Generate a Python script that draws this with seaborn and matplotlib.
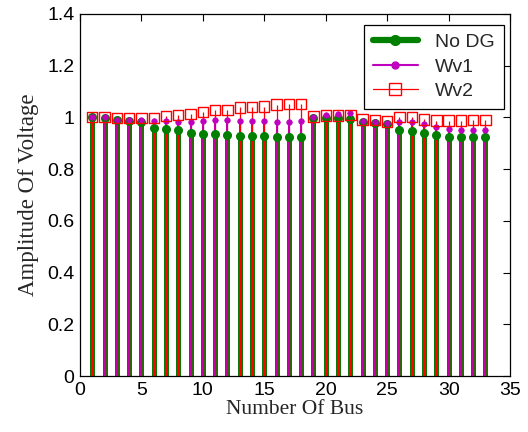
import numpy as np
import seaborn as sns
import matplotlib
matplotlib.use('Agg')
import matplotlib.pyplot as plt
from matplotlib.lines import Line2D
from matplotlib.legend_handler import HandlerLine2D

# Bus voltage magnitudes
buses = list(range(1, 34))
no_dg = [1.000, 0.998, 0.990, 0.985, 0.982, 0.960, 0.957, 0.952, 0.941, 0.937, 0.935,
         0.933, 0.930, 0.928, 0.927, 0.926, 0.925, 0.925, 0.999, 0.997, 0.996, 0.995,
         0.983, 0.980, 0.975, 0.951, 0.948, 0.938, 0.932, 0.925, 0.925, 0.925, 0.925]
wv1 = [1.000, 1.000, 0.991, 0.990, 0.990, 0.987, 0.986, 0.984, 0.982, 0.987, 0.990,
       0.990, 0.987, 0.987, 0.987, 0.984, 0.984, 0.985, 1.003, 1.008, 1.012, 1.016,
       0.988, 0.983, 0.978, 0.983, 0.983, 0.974, 0.962, 0.956, 0.953, 0.950, 0.950]
wv2 = [1.002, 1.002, 0.997, 0.997, 0.997, 0.997, 1.006, 1.010, 1.014, 1.022, 1.028,
       1.029, 1.039, 1.040, 1.042, 1.050, 1.052, 1.052, 1.004, 1.007, 1.008, 1.009,
       0.992, 0.990, 0.984, 1.001, 1.001, 0.992, 0.988, 0.988, 0.988, 0.991, 0.991]
series_names = ['No DG', 'Wv1', 'Wv2']
x_ticks = [0, 5, 10, 15, 20, 25, 30, 35]
y_ticks = [0, 0.2, 0.4, 0.6, 0.8, 1.0, 1.2, 1.4]

sns.set_style('white')
plt.rcParams['font.family'] = ['Liberation Sans', 'DejaVu Sans']
plt.rcParams['xtick.direction'] = 'in'
plt.rcParams['ytick.direction'] = 'in'


class EndMarkerHandler(HandlerLine2D):
    # matlab-style legend: marker sits at the right end of the line
    def get_xdata(self, legend, xdescent, ydescent, width, height, fontsize):
        xdata, _ = super().get_xdata(legend, xdescent, ydescent, width, height, fontsize)
        return xdata, np.array([xdata[-1]])


fig = plt.figure(figsize=(5.28, 4.32), dpi=100)
ax = fig.add_axes([0.1515, 0.1296, 0.8145, 0.838])

green = '#007f00'
magenta = '#bf00bf'
red = '#ff0000'

# stems
ax.vlines(buses, 0, no_dg, color=green, linewidth=3.6, zorder=2)
ax.vlines(buses, 0, wv1, color=magenta, linewidth=1.5, zorder=3)
ax.vlines(buses, 0, wv2, color=red, linewidth=0.9, zorder=4)

# stem heads
sns.scatterplot(x=buses, y=no_dg, ax=ax, color=green, marker='o', s=30,
                edgecolor=green, linewidth=1, zorder=5, legend=False)
sns.scatterplot(x=buses, y=wv1, ax=ax, color=magenta, marker='o', s=16,
                edgecolor=magenta, linewidth=0.5, zorder=6, legend=False)
sns.scatterplot(x=buses, y=wv2, ax=ax, marker='s', s=56, facecolor='none',
                edgecolor=red, linewidth=1.0, zorder=7, legend=False)

ax.set_xlim(0, 35)
ax.set_ylim(0, 1.4)
ax.set_xticks(x_ticks)
ax.set_yticks(y_ticks)
ax.set_yticklabels(['0', '0.2', '0.4', '0.6', '0.8', '1', '1.2', '1.4'])
ax.tick_params(axis='both', labelsize=14, length=5, width=0.8, colors='black',
               top=True, right=True, pad=4)
for sp in ax.spines.values():
    sp.set_color('black')
    sp.set_linewidth(0.9)

ax.set_xlabel('Number Of Bus', family=['Liberation Serif', 'DejaVu Serif'], fontsize=15.5, labelpad=1)
ax.set_ylabel('Amplitude Of Voltage', family=['Liberation Serif', 'DejaVu Serif'], fontsize=16.5, labelpad=6)

handles = [
    Line2D([], [], color=green, linewidth=4.5, marker='o', markersize=7),
    Line2D([], [], color=magenta, linewidth=1.5, marker='o', markersize=5),
    Line2D([], [], color=red, linewidth=0.9, marker='s', markersize=8,
           markerfacecolor='none', markeredgecolor=red),
]
leg = ax.legend(handles, series_names, loc='upper right', bbox_to_anchor=(0.985, 0.97),
                borderaxespad=0, fancybox=False, framealpha=1, edgecolor='black',
                fontsize=14, handlelength=2.3, handletextpad=0.9, labelspacing=0.35,
                borderpad=0.45, numpoints=1,
                handler_map={Line2D: EndMarkerHandler()})
leg.get_frame().set_linewidth(0.9)
leg.set_zorder(10)

fig.savefig('out.png', dpi=100)
